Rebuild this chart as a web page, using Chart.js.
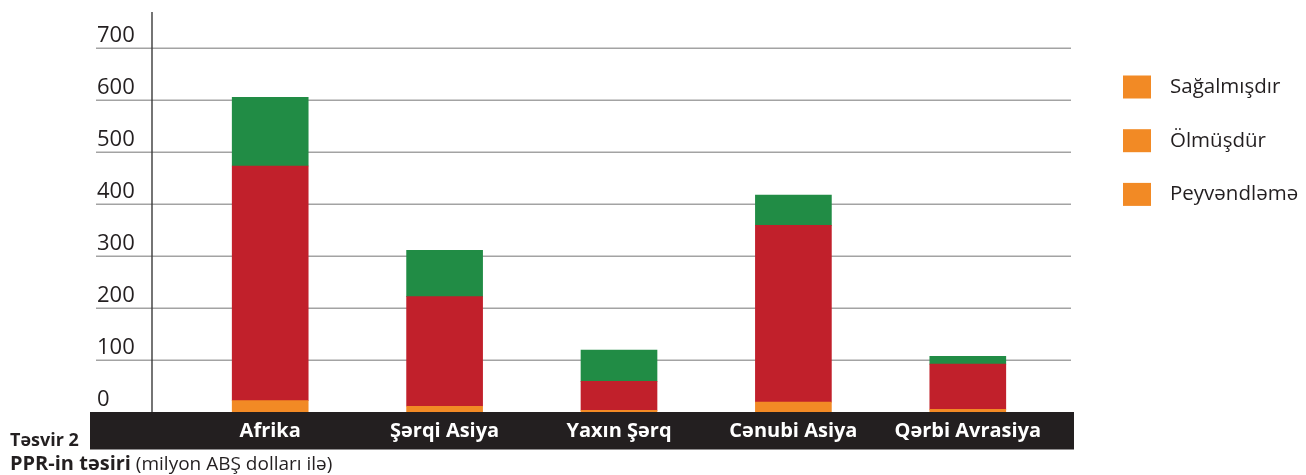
<!DOCTYPE html>
<html>
<head>
<meta charset="utf-8">
<script src="https://cdn.jsdelivr.net/npm/chart.js@4/dist/chart.umd.min.js"></script>
<style>
  html, body { margin: 0; padding: 0; background: #ffffff; }
  #wrap { position: relative; width: 1306px; height: 475px; }
</style>
</head>
<body>
<div id="wrap"><canvas id="c" width="1306" height="475"></canvas></div>
<script>
// ---- data ----
const categories = ["Afrika", "Şərqi Asiya", "Yaxın Şərq", "Cənubi Asiya", "Qərbi Avrasiya"];
const peyvendleme = [22, 11, 3, 19, 5];
const olmusdur = [451, 211, 56, 340, 87];
const sagalmisdir = [132, 89, 60, 58, 15];
const yTicks = [0, 100, 200, 300, 400, 500, 600, 700];
const legendOrder = ["Sağalmışdır", "Ölmüşdür", "Peyvəndləmə"];
const captionTitle = "Təsvir 2";
const captionBold = "PPR-in təsiri";
const captionNormal = " (milyon ABŞ dolları ilə)";

const FONT = "'Open Sans', 'Noto Sans', sans-serif";

const decor = {
  id: 'decor',
  beforeDatasetsDraw(chart) {
    const ctx = chart.ctx;
    const y = chart.scales.y;
    ctx.save();
    // grid lines
    ctx.strokeStyle = '#a3a3a3';
    ctx.lineWidth = 1.6;
    yTicks.forEach(v => {
      if (v === 0) return;
      const py = Math.round(y.getPixelForValue(v)) + 0.2;
      ctx.beginPath();
      ctx.moveTo(96, py);
      ctx.lineTo(1071, py);
      ctx.stroke();
    });
    // vertical axis line
    ctx.strokeStyle = '#3a3a3a';
    ctx.lineWidth = 1.4;
    ctx.beginPath();
    ctx.moveTo(152, 12);
    ctx.lineTo(152, y.getPixelForValue(0));
    ctx.stroke();
    // y tick labels
    ctx.fillStyle = '#231f20';
    ctx.font = "22px " + FONT;
    ctx.textAlign = 'left';
    ctx.textBaseline = 'alphabetic';
    yTicks.forEach(v => {
      const py = y.getPixelForValue(v);
      ctx.fillText(String(v), 97, py - 6.5);
    });
    ctx.restore();
  },
  afterDatasetsDraw(chart) {
    const ctx = chart.ctx;
    const x = chart.scales.x;
    const y = chart.scales.y;
    const base = y.getPixelForValue(0);
    ctx.save();
    // black band
    ctx.fillStyle = '#231f20';
    ctx.fillRect(90, base, 1074 - 90, 449.5 - base);
    // category labels
    ctx.fillStyle = '#ffffff';
    ctx.font = "bold 20px " + FONT;
    ctx.textAlign = 'center';
    ctx.textBaseline = 'middle';
    categories.forEach((c, i) => {
      ctx.fillText(c, x.getPixelForValue(i), (base + 449.5) / 2 + 1);
    });
    // captions
    ctx.fillStyle = '#231f20';
    ctx.textAlign = 'left';
    ctx.textBaseline = 'alphabetic';
    ctx.font = "bold 18px " + FONT;
    ctx.fillText(captionTitle, 10, 446);
    ctx.font = "bold 20px " + FONT;
    ctx.fillText(captionBold, 10, 470);
    const w = ctx.measureText(captionBold).width;
    ctx.font = "19px " + FONT;
    ctx.fillText(captionNormal, 10 + w, 470);
    // legend
    ctx.font = "20.5px " + FONT;
    legendOrder.forEach((lab, i) => {
      const cy = 87 + i * 53.7;
      ctx.fillStyle = '#f28a25';
      ctx.fillRect(1123, cy - 11.5, 28, 23);
      ctx.fillStyle = '#231f20';
      ctx.textBaseline = 'middle';
      ctx.fillText(lab, 1170, cy);
    });
    ctx.restore();
  }
};

new Chart(document.getElementById('c'), {
  type: 'bar',
  data: {
    labels: categories,
    datasets: [
      { label: "Peyvəndləmə", data: peyvendleme, backgroundColor: '#f28a25' },
      { label: "Ölmüşdür", data: olmusdur, backgroundColor: '#c1202b' },
      { label: "Sağalmışdır", data: sagalmisdir, backgroundColor: '#218c45' }
    ]
  },
  options: {
    responsive: false,
    animation: false,
    devicePixelRatio: 1,
    layout: { padding: { left: 183, right: 251, top: 48, bottom: 63 } },
    datasets: { bar: { barThickness: 76, borderWidth: 0 } },
    plugins: { legend: { display: false }, tooltip: { enabled: false } },
    scales: {
      x: { stacked: true, display: false },
      y: { stacked: true, display: false, min: 0, max: 700 }
    }
  },
  plugins: [decor]
});
</script>
</body>
</html>
